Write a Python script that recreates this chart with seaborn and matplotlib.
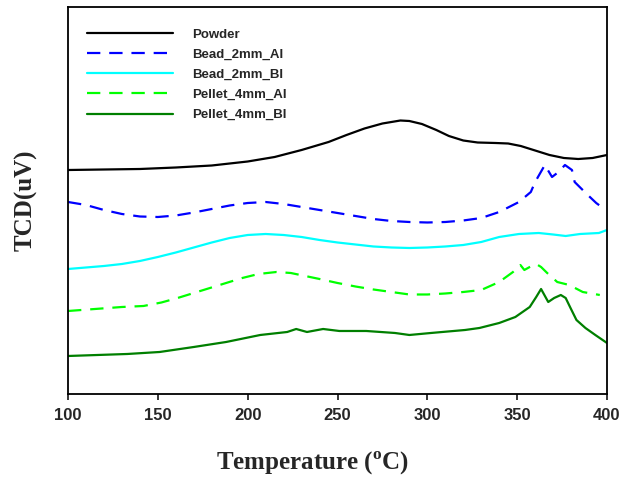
import numpy as np
import pandas as pd
import matplotlib
matplotlib.use("Agg")
import matplotlib.pyplot as plt
import seaborn as sns

# =========================
# Data (TCD signal, arbitrary units)
# =========================
powder_T = [100, 120, 140, 160, 180, 200, 215, 230, 245, 255, 265, 275, 285,
            290, 297, 305, 312, 320, 328, 338, 345, 352, 360, 368, 376, 384,
            392, 400]
powder_s = [224, 224.5, 225, 226.5, 228.5, 232.5, 237, 244, 252, 259, 265.5,
            270.5, 273.5, 273, 270, 264, 258, 253.5, 251.5, 251, 250.5, 248,
            243.5, 239, 236, 235, 236, 239]

bead_ai_T = [100, 110, 120, 130, 140, 150, 160, 170, 180, 190, 200, 210, 220,
             230, 240, 250, 260, 270, 280, 290, 300, 310, 320, 330, 340, 351,
             357.6, 360, 365.4, 369.4, 373, 376.6, 380.5, 382, 384.8, 389.3,
             394, 397, 400]
bead_ai_s = [192, 189, 184, 180, 177.5, 177, 178.5, 181.5, 185, 188.5, 191,
             192, 190, 187, 184, 181, 178, 175, 173, 172, 171.5, 172, 173.5,
             176, 182, 192, 202, 212, 229, 217, 222, 229, 224, 212, 207, 199,
             191, 187, 188]

bead_bi_T = [100, 110, 120, 130, 140, 150, 160, 170, 180, 190, 200, 210, 220,
             230, 240, 250, 260, 270, 280, 290, 300, 310, 320, 330, 340, 351,
             362, 370, 377, 385, 395.5, 400]
bead_bi_s = [125, 126.5, 128, 130, 133, 137, 141.5, 146.5, 151.5, 156, 159,
             160, 159, 157, 154, 151.5, 149.5, 147.5, 146.5, 146, 146.5, 147.5,
             149, 152, 157, 160, 161, 159.5, 158, 160, 161, 164]

pellet_ai_T = [100, 115, 130, 142, 152, 161, 170, 179, 188, 197, 206, 216,
               224, 232, 240, 250, 260, 270, 280, 290, 300, 310, 320, 330,
               340, 347.7, 351.8, 354, 357, 360.6, 363.3, 366.7, 372.3, 379,
               386.5, 396]
pellet_ai_s = [83, 85, 87, 88, 91.5, 96, 101, 106, 111, 116, 120, 122, 121,
               118, 115, 111, 107.5, 104.5, 102, 99.5, 99.5, 100.5, 102, 104,
               112, 122, 129, 124, 127, 130, 127, 121, 112, 109, 102, 99]

pellet_bi_T = [100, 133, 151, 170, 188, 207, 222, 227, 233, 242, 251, 266,
               282, 290, 302, 321, 329, 340, 349, 357, 360.6, 363.3, 367.3,
               370.6, 374.3, 377, 379.7, 383, 388, 393.5, 400]
pellet_bi_s = [38, 40, 42, 47, 52, 59, 62, 65, 62, 65, 63, 63, 61, 59, 61, 64,
               66, 71, 77, 87, 97, 105, 92, 96, 99, 96, 86, 74, 66, 59, 51]

labels = ["Powder", "Bead_2mm_AI", "Bead_2mm_BI", "Pellet_4mm_AI", "Pellet_4mm_BI"]
colors = ["black", "#0000ff", "#00ffff", "#00ff00", "#007f00"]
dashed = [False, True, False, True, False]

series = [(powder_T, powder_s), (bead_ai_T, bead_ai_s), (bead_bi_T, bead_bi_s),
          (pellet_ai_T, pellet_ai_s), (pellet_bi_T, pellet_bi_s)]

# =========================
# Plot
# =========================
sns.set_style("ticks")
plt.rcParams.update({
    "font.family": ["Liberation Sans", "DejaVu Sans"],
    "axes.linewidth": 1.3,
    "mathtext.fontset": "custom",
    "mathtext.rm": "Liberation Serif:bold",
    "mathtext.bf": "Liberation Serif:bold",
})

fig = plt.figure(figsize=(6.34, 4.8), dpi=100)
ax = fig.add_axes([0.1073, 0.1792, 0.8501, 0.8062])

for (T, s), lab, col, dsh in zip(series, labels, colors, dashed):
    df = pd.DataFrame({"T": T, "s": s})
    sns.lineplot(data=df, x="T", y="s", ax=ax, color=col, lw=1.6, label=lab,
                 linestyle=(0, (6, 4)) if dsh else "-")

ax.set_xlim(100, 400)
ax.set_ylim(0, 387)
xt = [100, 150, 200, 250, 300, 350, 400]
ax.set_xticks(xt)
ax.set_xticklabels([str(v) for v in xt], fontfamily="Liberation Sans",
                   fontsize=12, fontweight="bold")
ax.set_yticks([])

ax.tick_params(axis="x", direction="out", length=4, width=1.3, pad=6)

for sp in ax.spines.values():
    sp.set_visible(True)
    sp.set_color("black")
    sp.set_linewidth(1.3)

ax.set_xlabel(r"Temperature ($^{\mathbf{o}}$C)", family="Liberation Serif",
              fontsize=18, fontweight="bold")
ax.set_ylabel("TCD(uV)", family="Liberation Serif", fontsize=18,
              fontweight="bold")
ax.xaxis.set_label_coords(0.453, -0.145)
ax.yaxis.set_label_coords(-0.056, 0.5)

leg = ax.legend(loc="upper left", bbox_to_anchor=(0.035, 0.945), frameon=False,
                prop={"family": "Liberation Sans", "weight": "bold", "size": 9.5},
                handlelength=6.5, handletextpad=1.5, labelspacing=0.6,
                borderpad=0, borderaxespad=0)

fig.savefig("out.png", dpi=100)
plt.close(fig)
